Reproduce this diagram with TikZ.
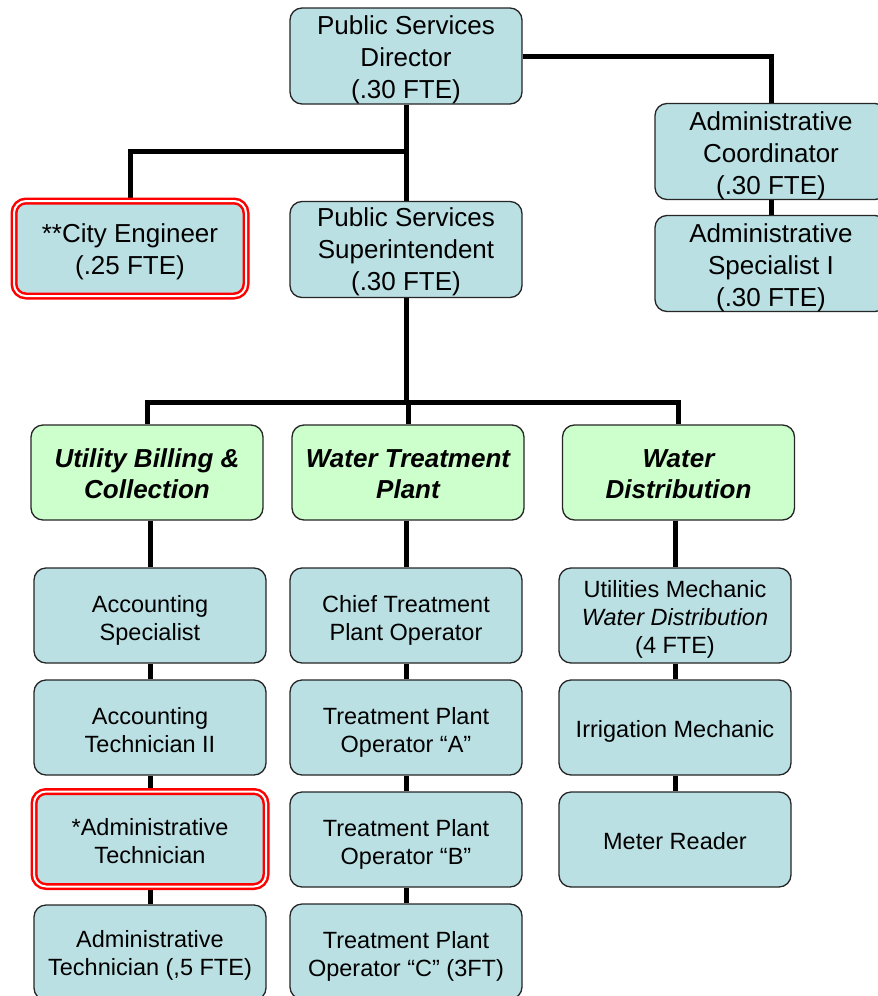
\documentclass[tikz,border=0pt]{standalone}
\usepackage{fontspec}
\setmainfont{Liberation Sans}
\pgfdeclarelayer{background}
\pgfsetlayers{background,main}
\definecolor{boxblue}{RGB}{186,224,227}
\definecolor{grpgreen}{RGB}{204,255,204}
% centred lines, lowered by \textdrop without changing the box size
\newlength{\textdrop}
\newcommand{\boxtext}[1]{\raisebox{-\textdrop}[\height][\depth]{\begin{tabular}{@{}c@{}}#1\end{tabular}}}
\tikzset{
  textdrop/.style={execute at begin node={\setlength{\textdrop}{#1}}},
  box/.style={draw=black!85, line width=1.3pt, rounded corners=12pt, fill=boxblue,
    minimum width=232pt, minimum height=95pt, inner sep=0pt,
    font=\fontsize{23.5}{28}\selectfont, textdrop=4pt},
  topbox/.style={box, font=\fontsize{26}{32}\selectfont},
  grpbox/.style={box, fill=grpgreen, font=\fontsize{26}{31}\selectfont\bfseries\itshape,
    textdrop=4pt},
  flagged/.style={draw=red, double=white, double distance=2pt, line width=2.5pt},
  link/.style={line width=5pt, draw=black}
}
\begin{document}
\begin{tikzpicture}[x=1pt, y=-1pt]
  \useasboundingbox (0,0) rectangle (878,996);
  \clip (0,0) rectangle (878,996);

  % senior positions
  \node[topbox] (dir)  at (406,56)    {\boxtext{Public Services\\Director\\(.30 FTE)}};
  \node[topbox, textdrop=3pt] (sup) at (406,249.5) {\boxtext{Public Services\\Superintendent\\(.30 FTE)}};
  \node[topbox, flagged, textdrop=3.5pt] (eng) at (130,248.5) {\boxtext{**City Engineer\\(.25 FTE)}};
  \node[topbox, textdrop=5pt] (coord) at (771,151.5) {\boxtext{Administrative\\Coordinator\\(.30 FTE)}};
  \node[topbox, textdrop=5pt] (spec)  at (771,263.5) {\boxtext{Administrative\\Specialist I\\(.30 FTE)}};

  % divisions
  \node[grpbox] (ub) at (147,472.5)   {\boxtext{Utility Billing \&\\Collection}};
  \node[grpbox] (wt) at (408,472.5)   {\boxtext{Water Treatment\\Plant}};
  \node[grpbox] (wd) at (678.5,472.5) {\boxtext{Water\\Distribution}};

  % utility billing staff
  \node[box, textdrop=5pt] (ub1) at (150,615.5) {\boxtext{Accounting\\Specialist}};
  \node[box, textdrop=5pt] (ub2) at (150,727.5) {\boxtext{Accounting\\Technician II}};
  \node[box, flagged, textdrop=5pt] (ub3) at (150,839) {\boxtext{*Administrative\\Technician}};
  \node[box, textdrop=3pt] (ub4) at (150,952.5) {\boxtext{Administrative\\Technician (,5 FTE)}};

  % water treatment staff
  \node[box, textdrop=5pt] (wt1) at (406,615.5) {\boxtext{Chief Treatment\\Plant Operator}};
  \node[box, textdrop=5pt] (wt2) at (406,727.5) {\boxtext{Treatment Plant\\Operator “A”}};
  \node[box, textdrop=5pt] (wt3) at (406,839.5) {\boxtext{Treatment Plant\\Operator “B”}};
  \node[box, textdrop=5pt] (wt4) at (406,951.5) {\boxtext{Treatment Plant\\Operator “C” (3FT)}};

  % water distribution staff
  \node[box] (wd1) at (675,615.5) {\boxtext{Utilities Mechanic\\\textit{Water Distribution}\\(4 FTE)}};
  \node[box] (wd2) at (675,727.5) {\boxtext{Irrigation Mechanic}};
  \node[box] (wd3) at (675,839.5) {\boxtext{Meter Reader}};

  \begin{pgfonlayer}{background}
    \clip (0,0) rectangle (878,996);
    \fill[white] (0,0) rectangle (878,996);
    \coordinate (engbar) at (dir |- 0,151);
    \coordinate (divbar) at (sup |- 0,402);
    \draw[link] (dir.south) -- (sup.north);
    \draw[link] (engbar) -| (eng.north);
    \draw[link] (dir.east) -| (coord.north);
    \draw[link] (coord.south) -- (spec.north);
    \draw[link] (sup.south) -- (divbar);
    \draw[link] (ub.north) |- (divbar) -| (wd.north);
    \draw[link] (divbar) -| (wt.north);
    \draw[link] (ub1.north |- ub.south) -- (ub1.north);
    \draw[link] (ub1.south) -- (ub2.north);
    \draw[link] (ub2.south) -- (ub3.north);
    \draw[link] (ub3.south) -- (ub4.north);
    \draw[link] (wt1.north |- wt.south) -- (wt1.north);
    \draw[link] (wt1.south) -- (wt2.north);
    \draw[link] (wt2.south) -- (wt3.north);
    \draw[link] (wt3.south) -- (wt4.north);
    \draw[link] (wd1.north |- wd.south) -- (wd1.north);
    \draw[link] (wd1.south) -- (wd2.north);
    \draw[link] (wd2.south) -- (wd3.north);
  \end{pgfonlayer}
\end{tikzpicture}
\end{document}
